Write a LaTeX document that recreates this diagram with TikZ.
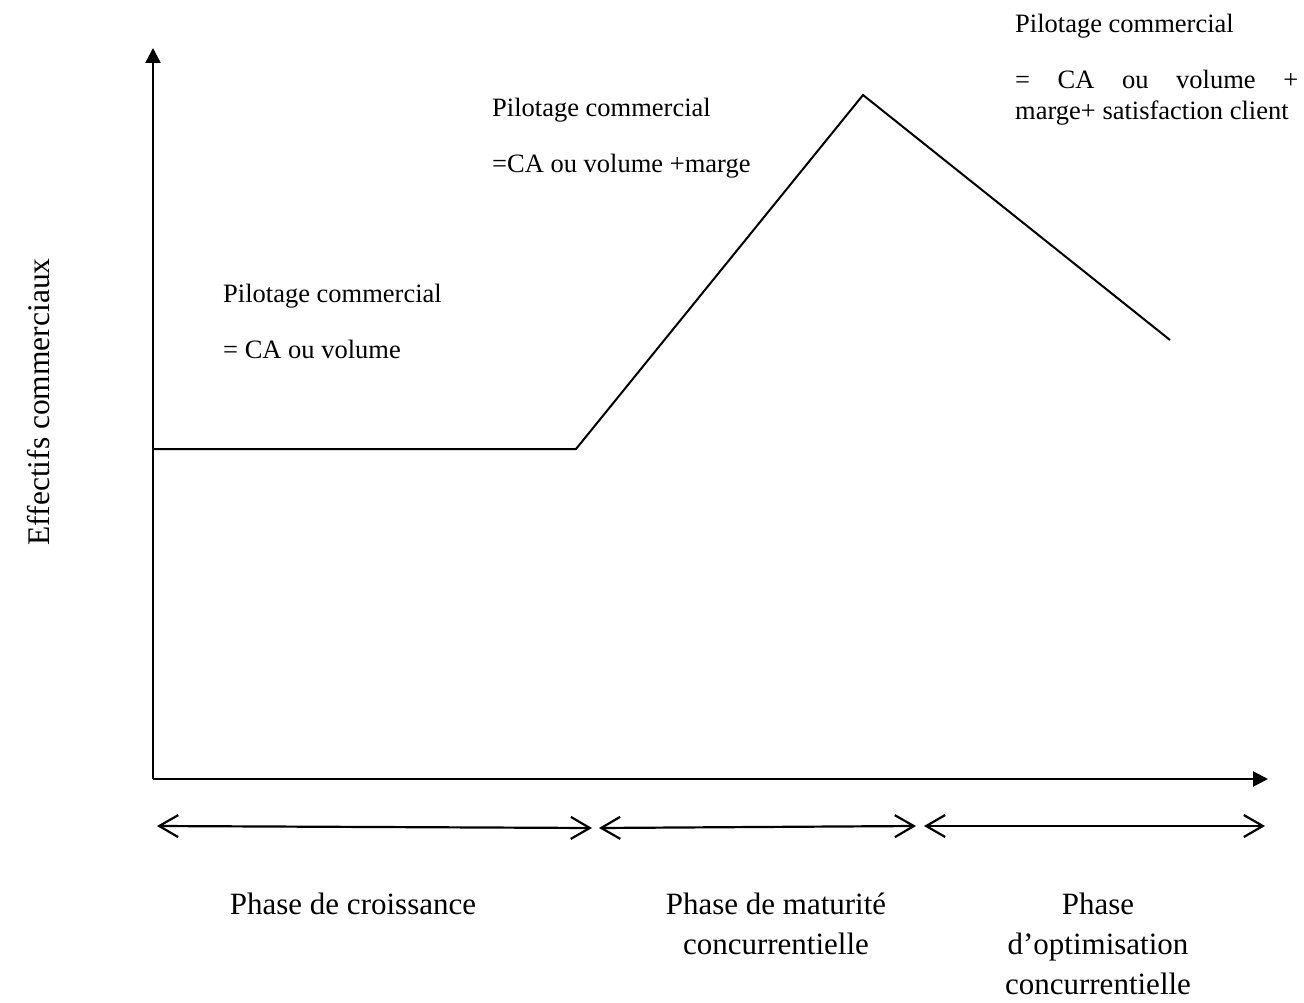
\documentclass[tikz,border=0pt]{standalone}
\usepackage{fontspec}
\setmainfont{Liberation Serif}
\usetikzlibrary{arrows.meta}

\begin{document}
\begin{tikzpicture}[x=1pt,y=-1pt,
  axis/.style={line width=2.4pt,-{Triangle[length=15pt,width=15pt]}},
  trend/.style={line width=2pt,line join=miter},
  span/.style={line width=2.2pt,
    {Straight Barb[length=19pt,width=22pt]}-{Straight Barb[length=19pt,width=22pt]}},
  note/.style={inner sep=0pt,anchor=base west,font=\fontsize{26.5}{31}\selectfont},
  phase/.style={inner sep=0pt,anchor=base,font=\fontsize{31}{40}\selectfont},
]
\useasboundingbox (0,0) rectangle (1304,1003);

% axes
\coordinate (O) at (153,779);
\coordinate (ytip) at (153,48);
\coordinate (xtip) at (1268,779);
\draw[axis] (O) -- (ytip);
\draw[axis] (O) -- (xtip);
\node[rotate=90,anchor=base,inner sep=0pt,font=\fontsize{31.5}{38}\selectfont]
  (ylabel) at (49,402) {Effectifs commerciaux};

% headcount curve
\coordinate (c0) at (153,449);
\coordinate (c1) at (576,449);
\coordinate (c2) at (863,95);
\coordinate (c3) at (1170,340);
\draw[trend] (c0) -- (c1) -- (c2) -- (c3);

% phase spans
\coordinate (a1) at (157,826);
\coordinate (b1) at (592,828);
\coordinate (a2) at (599,828);
\coordinate (b2) at (916,826);
\coordinate (a3) at (924,826);
\coordinate (b3) at (1265,826);
\draw[span] (a1) -- (b1);
\draw[span] (a2) -- (b2);
\draw[span] (a3) -- (b3);

% phase names
\node[phase] (p1) at (353,914) {Phase de croissance};
\node[phase] (p2a) at (776,914) {Phase de maturité};
\node[phase] (p2b) at (776,954) {concurrentielle};
\node[phase] (p3a) at (1098,914) {Phase};
\node[phase] (p3b) at (1098,954) {d’optimisation};
\node[phase] (p3c) at (1098,994) {concurrentielle};

% steering notes
\node[note] (n1a) at (223,302) {Pilotage commercial};
\node[note] (n1b) at (223,358) {= CA ou volume};
\node[note] (n2a) at (492,117) {Pilotage commercial};
\node[note] (n2b) at (492,173) {=CA ou volume +marge};
\node[note] (n3a) at (1015,33) {Pilotage commercial};
\node[note] (n3b) at (1015,89) {\makebox[283pt][s]{= CA ou volume +}};
\node[note] (n3c) at (1015,120) {marge+ satisfaction client};
\end{tikzpicture}
\end{document}
